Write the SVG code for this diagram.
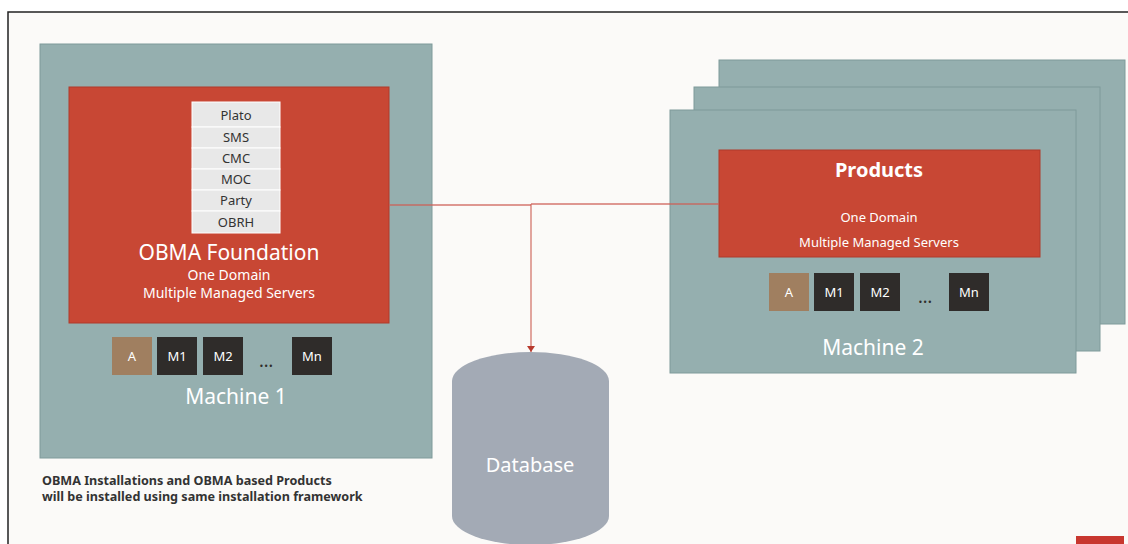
<svg xmlns="http://www.w3.org/2000/svg" width="1128" height="544" viewBox="0 0 1128 544">
<defs>
<style>
.mach{fill:#95afaf;stroke:#7f9a9a;stroke-width:1}
.red{fill:#c84734;stroke:#b03a2a;stroke-width:1}
.cell{fill:#e8e8e8;stroke:#ffffff;stroke-width:1}
.ct{font-family:"Noto Sans","Open Sans",sans-serif;font-size:13px;fill:#333;text-anchor:middle}
.w{font-family:"Noto Sans","Open Sans",sans-serif;fill:#fff;text-anchor:middle}
.a{fill:#a07f60}
.m{fill:#2f2c2a}
.bt{font-family:"Noto Sans","Open Sans",sans-serif;font-size:13px;fill:#fff;text-anchor:middle}
.dots{font-family:"Noto Sans","Open Sans",sans-serif;font-size:18px;fill:#2f2c2a;text-anchor:middle}
.conn{fill:none;stroke:#cc5f55;stroke-width:1.3;stroke-opacity:0.85}
.note{font-family:"Noto Sans","Open Sans",sans-serif;font-size:12.6px;font-weight:bold;fill:#333}
</style>
<marker id="arr" markerWidth="8" markerHeight="8" refX="6" refY="4" orient="auto" markerUnits="userSpaceOnUse">
<path d="M0,0 L6,4 L0,8 Z" fill="#b83a2e"/>
</marker>
</defs>
<rect x="0" y="0" width="1128" height="544" fill="#ffffff"/>
<rect x="8" y="12" width="1130" height="540" fill="#fbfaf8" stroke="#222" stroke-width="1.5"/>

<g id="machine1">
<rect class="mach" x="40" y="44" width="392" height="414"/>
<rect class="red" x="69" y="87" width="320" height="236"/>
<g id="stack">
<rect class="cell" x="192" y="102" width="88" height="25"/>
<rect class="cell" x="192" y="127" width="88" height="21"/>
<rect class="cell" x="192" y="148" width="88" height="21"/>
<rect class="cell" x="192" y="169" width="88" height="21"/>
<rect class="cell" x="192" y="190" width="88" height="21"/>
<rect class="cell" x="192" y="211" width="88" height="22"/>
<text class="ct" x="236" y="120">Plato</text>
<text class="ct" x="236" y="142">SMS</text>
<text class="ct" x="236" y="163">CMC</text>
<text class="ct" x="236" y="184">MOC</text>
<text class="ct" x="236" y="205">Party</text>
<text class="ct" x="236" y="227">OBRH</text>
</g>
<text class="w" x="229" y="260" font-size="21">OBMA Foundation</text>
<text class="w" x="229" y="280" font-size="14">One Domain</text>
<text class="w" x="229" y="298" font-size="14">Multiple Managed Servers</text>
<rect class="a" x="112" y="337" width="40" height="38"/>
<rect class="m" x="157" y="337" width="40" height="38"/>
<rect class="m" x="203" y="337" width="40" height="38"/>
<rect class="m" x="292" y="337" width="40" height="38"/>
<text class="bt" x="132" y="361">A</text>
<text class="bt" x="177" y="361">M1</text>
<text class="bt" x="223" y="361">M2</text>
<text class="dots" x="266" y="367">…</text>
<text class="bt" x="312" y="361">Mn</text>
<text class="w" x="236" y="404" font-size="21">Machine 1</text>
</g>

<g id="machine2">
<rect class="mach" x="719" y="60" width="406" height="264"/>
<rect class="mach" x="694" y="87" width="406" height="264"/>
<rect class="mach" x="670" y="110" width="406" height="263"/>
<rect class="red" x="719" y="150" width="321" height="107"/>
<text class="w" x="879" y="177" font-size="20" font-weight="bold">Products</text>
<text class="w" x="879" y="222" font-size="13">One Domain</text>
<text class="w" x="879" y="247" font-size="13">Multiple Managed Servers</text>
<rect class="a" x="769" y="273" width="40" height="38"/>
<rect class="m" x="814" y="273" width="40" height="38"/>
<rect class="m" x="860" y="273" width="40" height="38"/>
<rect class="m" x="949" y="273" width="40" height="38"/>
<text class="bt" x="789" y="297">A</text>
<text class="bt" x="834" y="297">M1</text>
<text class="bt" x="880" y="297">M2</text>
<text class="dots" x="925" y="303">…</text>
<text class="bt" x="969" y="297">Mn</text>
<text class="w" x="873" y="355" font-size="21">Machine 2</text>
</g>

<g id="database">
<path d="M452,381 A78.5,29 0 0 1 609,381 L609,516 A78.5,29 0 0 1 452,516 Z" fill="#a3aab5"/>
<text class="w" x="530" y="472" font-size="20">Database</text>
</g>

<g id="connectors">
<path class="conn" d="M389,205 L531,205"/>
<path class="conn" d="M531,204 L719,204"/>
<path class="conn" d="M531,204 L531,352" marker-end="url(#arr)"/>
</g>

<g id="note">
<text class="note" x="42" y="485">OBMA Installations and OBMA based Products</text>
<text class="note" x="42" y="501">will be installed using same installation framework</text>
</g>
<rect x="1076" y="536" width="48" height="10" fill="#c8372f"/>
</svg>
